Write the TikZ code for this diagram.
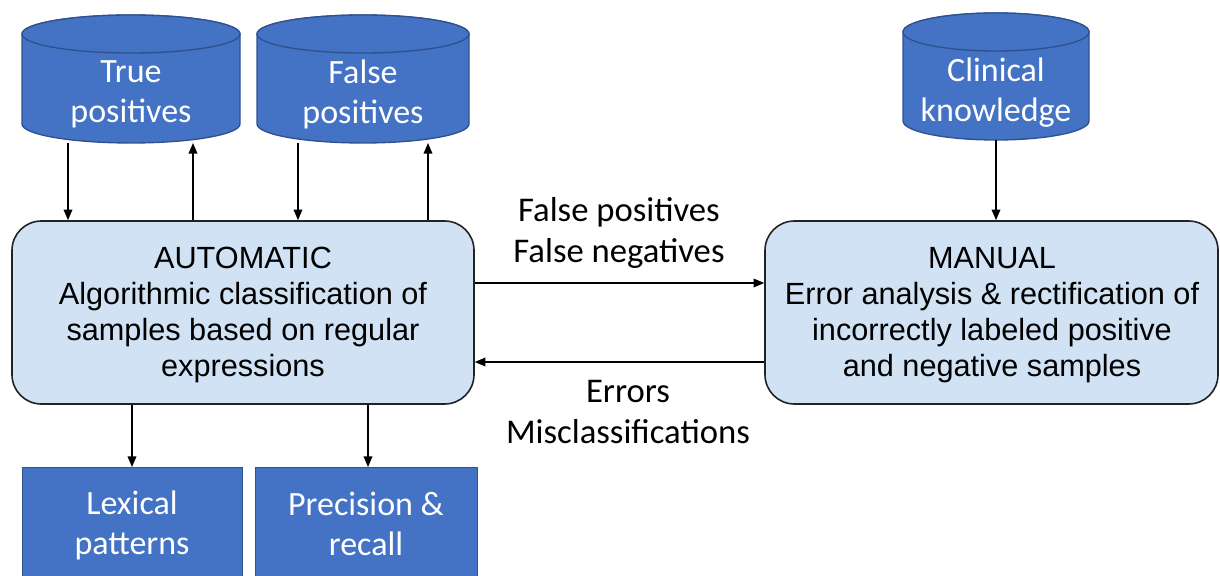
\documentclass[tikz,border=0pt]{standalone}
\usepackage{fontspec}
\setmainfont{Carlito}
\newfontfamily\arialf{Liberation Sans}
\usetikzlibrary{arrows.meta,calc}
\definecolor{cylblue}{HTML}{4472C4}
\definecolor{cyledge}{HTML}{2F528F}
\definecolor{boxfill}{HTML}{D0E2F3}
\definecolor{boxedge}{HTML}{222222}
\begin{document}
\begin{tikzpicture}[x=0.75pt,y=0.75pt,
  cylbody/.style={fill=cylblue,draw=cyledge,line width=1pt},
  cyltext/.style={text=white,align=center,font=\fontsize{25.5}{30}\selectfont,inner sep=0pt},
  bluebox/.style={fill=cylblue,draw=cyledge,line width=1pt,inner sep=0pt},
  procbox/.style={fill=boxfill,draw=boxedge,line width=1.2pt,rounded corners=22pt,inner sep=0pt},
  proctext/.style={align=center,font=\arialf\fontsize{23}{27}\selectfont,inner sep=0pt},
  lbl/.style={align=center,font=\fontsize{26}{31}\selectfont,inner sep=0pt},
  arr/.style={line width=1.1pt,-{Triangle[length=8pt,width=6.5pt]}}]
\useasboundingbox (0,0) rectangle (1220,575);
\begin{scope}
\clip (0,0) rectangle (1220,575);
% cylinders
\draw[cylbody] (22,541) -- (22,451) arc[start angle=180,end angle=360,x radius=109,y radius=19] -- (240,541) arc[start angle=0,end angle=180,x radius=109,y radius=19] -- cycle;
\draw[cylbody] (131,541) ellipse[x radius=109,y radius=19];
\draw[cylbody] (257,541) -- (257,451) arc[start angle=180,end angle=360,x radius=106,y radius=19] -- (469,541) arc[start angle=0,end angle=180,x radius=106,y radius=19] -- cycle;
\draw[cylbody] (363,541) ellipse[x radius=106,y radius=19];
\draw[cylbody] (903,543) -- (903,454) arc[start angle=180,end angle=360,x radius=93,y radius=19] -- (1089,543) arc[start angle=0,end angle=180,x radius=93,y radius=19] -- cycle;
\draw[cylbody] (996,543) ellipse[x radius=93,y radius=19];
\node[cyltext] (tp) at (131,481) {True\\positives};
\node[cyltext] (fp) at (363,481) {False\\positives};
\node[cyltext] (ck) at (996,482) {Clinical\\knowledge};
\coordinate (tpb) at (131,432);
\coordinate (fpb) at (363,432);
\coordinate (ckb) at (996,435);
% process boxes
\node[procbox,minimum width=346.5pt,minimum height=137.25pt] (auto) at (243,262.5) {};
\node[procbox,minimum width=339.75pt,minimum height=137.25pt] (man) at (991.5,262.5) {};
\node[proctext] (autot) at (243,260) {AUTOMATIC\\Algorithmic classification of\\samples based on regular\\expressions};
\node[proctext] (mant) at (992,260) {MANUAL\\Error analysis \& rectification of\\incorrectly labeled positive\\and negative samples};
% bottom boxes
\node[bluebox,minimum width=165pt,minimum height=90pt,anchor=north west] (lex) at (22,108) {};
\node[bluebox,minimum width=166.5pt,minimum height=90pt,anchor=north west] (pr) at (255,108) {};
\node[cyltext] (lext) at (132,50) {Lexical\\patterns};
\node[cyltext] (prt) at (366,51) {Precision \&\\recall};
\end{scope}
% arrows between cylinders and automatic
\draw[arr] (tpb -| 68,0) -- (auto.north -| 68,0);
\draw[arr] (auto.north -| 193,0) -- (tpb -| 193,0);
\draw[arr] (fpb -| 298,0) -- (auto.north -| 298,0);
\draw[arr] (auto.north -| 428,0) -- (fpb -| 428,0);
\draw[arr] (ckb) -- (man.north -| ckb);
% bottom arrows
\draw[arr] (auto.south -| 132,0) -- (lex.north -| 132,0);
\draw[arr] (auto.south -| 368,0) -- (pr.north -| 368,0);
% horizontal
\draw[arr] (auto.east |- 0,292) -- (man.west |- 0,292);
\draw[arr] (man.west |- 0,213) -- (auto.east |- 0,213);
\node[lbl] (l1) at (619,342) {False positives\\False negatives};
\node[lbl] (l2) at (628,163) {Errors\\Misclassifications};
\end{tikzpicture}
\end{document}
